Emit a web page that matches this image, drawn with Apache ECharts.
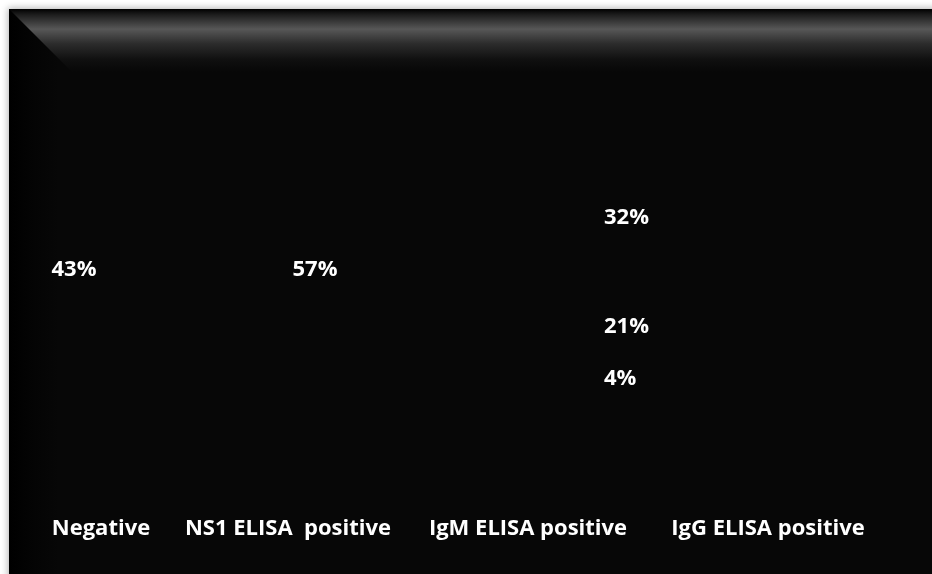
<!DOCTYPE html>
<html>
<head>
<meta charset="utf-8">
<script src="https://cdn.jsdelivr.net/npm/echarts@6/dist/echarts.min.js"></script>
<style>
  html, body { margin: 0; padding: 0; background: #ffffff; }
  #chart { width: 932px; height: 574px; }
</style>
</head>
<body>
<div id="chart"></div>
<script>
// ---- data ----
const categories = ['Negative', 'NS1 ELISA  positive', 'IgM ELISA positive', 'IgG ELISA positive'];
const overallValues = [43, 57, null, null];   // Negative / NS1 ELISA positive
const breakdownLow = [null, null, 4, null];    // stacked breakdown (bottom)
const breakdownMid = [null, null, 21, null];   // stacked breakdown (middle)
const breakdownTop = [null, null, 32, null];   // stacked breakdown (top)

// ---- styles ----
const FONT = '"Open Sans", "Liberation Sans", sans-serif';
const FS = 22;
const labelBase = {
  show: true,
  position: 'inside',
  formatter: '{c}%',
  color: '#ffffff',
  fontFamily: FONT,
  fontWeight: 'bold',
  fontSize: FS
};
const clear = { color: 'rgba(0,0,0,0)' };

function items(values, offsets, extra) {
  return values.map((v, i) => v == null ? '-' : {
    value: v,
    label: Object.assign({ offset: offsets[i] || [0, 0] }, extra || {})
  });
}

const chart = echarts.init(document.getElementById('chart'), null, { renderer: 'canvas' });
chart.setOption({
  backgroundColor: '#ffffff',
  animation: false,
  graphic: [
    { type: 'rect', z: -20, shape: { x: 9, y: 9, width: 940, height: 580 },
      style: { fill: '#070707', shadowBlur: 7, shadowColor: 'rgba(0,0,0,0.3)', shadowOffsetX: -1, shadowOffsetY: -1 } },
    { type: 'rect', z: -19, shape: { x: 9, y: 9, width: 50, height: 570 },
      style: { fill: { type: 'linear', x: 0, y: 0, x2: 1, y2: 0,
        colorStops: [{ offset: 0, color: '#000000' }, { offset: 0.5, color: '#040404' }, { offset: 1, color: '#070707' }] } } },
    { type: 'polygon', z: -18, shape: { points: [[9, 9], [940, 9], [940, 72], [72, 72]] },
      style: { fill: { type: 'linear', x: 0, y: 0, x2: 0, y2: 1,
        colorStops: [
          { offset: 0, color: '#000000' },
          { offset: 0.08, color: '#1a1a1a' },
          { offset: 0.32, color: '#575757' },
          { offset: 0.55, color: '#2c2c2c' },
          { offset: 0.8, color: '#101010' },
          { offset: 1, color: '#070707' }
        ] } } }
  ],
  grid: { left: 48, right: 164, top: 150, bottom: 188, containLabel: false },
  xAxis: {
    type: 'category',
    boundaryGap: false,
    data: categories,
    axisLine: { show: false },
    axisTick: { show: false },
    splitLine: { show: false },
    axisLabel: {
      interval: 0,
      hideOverlap: false,
      margin: 132,
      color: '#ffffff',
      fontFamily: FONT,
      fontWeight: 'bold',
      fontSize: FS,
      formatter: (v, i) => i === 0 ? '{first|' + v + '}' : v,
      rich: { first: { padding: [0, 0, 0, 106], color: '#ffffff', fontFamily: FONT, fontWeight: 'bold', fontSize: FS } }
    }
  },
  yAxis: { type: 'value', min: 0, max: 57, show: false, splitLine: { show: false } },
  series: [
    { type: 'bar', stack: 'all', barWidth: 60, clip: false, itemStyle: clear, label: labelBase,
      data: items(overallValues, [[26, -27], [27, 2]]) },
    { type: 'bar', stack: 'all', barWidth: 60, clip: false, itemStyle: clear, label: labelBase,
      data: items(breakdownLow, [null, null, [76, 1]], { align: 'left' }) },
    { type: 'bar', stack: 'all', barWidth: 60, clip: false, itemStyle: clear, label: labelBase,
      data: items(breakdownMid, [null, null, [76, 1]], { align: 'left' }) },
    { type: 'bar', stack: 'all', barWidth: 60, clip: false, itemStyle: clear, label: labelBase,
      data: items(breakdownTop, [null, null, [76, 1]], { align: 'left' }) }
  ]
});
</script>
</body>
</html>
